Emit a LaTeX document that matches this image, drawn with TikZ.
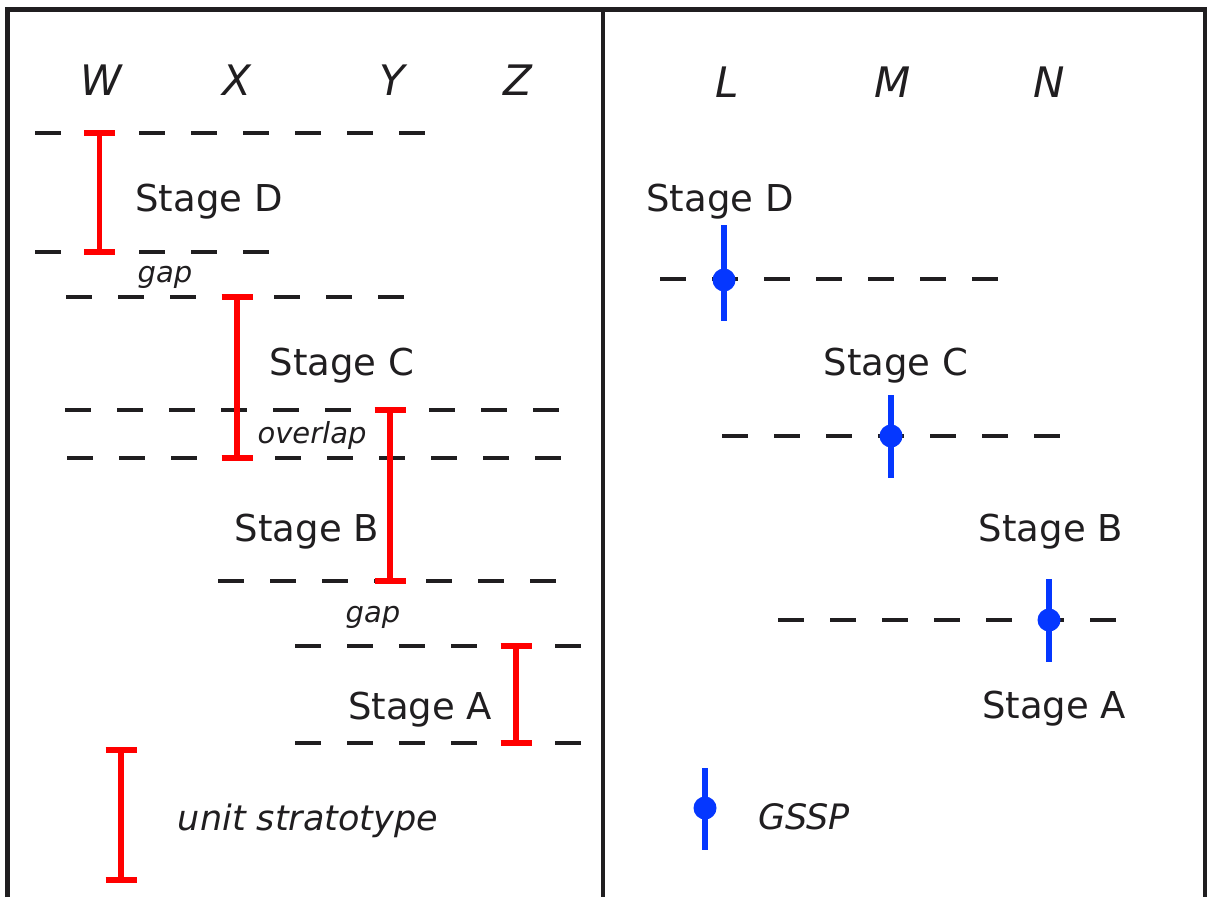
\documentclass[tikz,border=0pt]{standalone}
\usepackage{fontspec}
\setmainfont{DejaVu Sans}
\definecolor{gsspblue}{RGB}{5,55,255}
\definecolor{ink}{RGB}{32,30,32}
\definecolor{ured}{RGB}{255,0,0}
\begin{document}
\begin{tikzpicture}[x=1pt,y=-1pt,
  frame/.style={line width=4.5pt, ink},
  strat/.style={line width=4.2pt, ink, dash pattern=on 26pt off 26pt},
  unit/.style={line width=5.5pt, ured},
  gssp/.style={line width=5.5pt, gsspblue},
  gdot/.style={circle, fill=gsspblue, inner sep=0pt, minimum size=23pt},
  lbl/.style={font=\fontsize{37}{42}\selectfont, text=ink, inner sep=0pt, anchor=base},
  col/.style={font=\fontsize{42}{46}\selectfont\itshape, text=ink, inner sep=0pt, anchor=base},
  note/.style={font=\fontsize{29}{32}\selectfont\itshape, text=ink, inner sep=0pt, anchor=base},
  leg/.style={font=\fontsize{35}{40}\selectfont\itshape, text=ink, inner sep=0pt, anchor=base},
]
\useasboundingbox (0,0) rectangle (1207,897);
\fill[white] (0,0) rectangle (1207,897);
% frame
\draw[frame] (7.5,897) -- (7.5,9.5) -- (1207,9.5);
\draw[frame] (603,9.5) -- (603,897);
\draw[frame] (1205,9.5) -- (1205,897);
% column letters
\node[col] (W) at (101,95) {W};
\node[col] (X) at (237,95) {X};
\node[col] (Y) at (392,95) {Y};
\node[col] (Z) at (518,95) {Z};
\node[col] (L) at (727,97) {L};
\node[col] (M) at (893,97) {M};
\node[col] (N) at (1049,97) {N};
% left panel dashed boundaries
\draw[strat] (35,133) -- (428,133);
\draw[strat] (35,252) -- (270,252);
\draw[strat] (66,297) -- (408,297);
\draw[strat] (65,410) -- (560,410);
\draw[strat] (67,458) -- (562,458);
\draw[strat] (218,581) -- (558,581);
\draw[strat] (295,646) -- (582,646);
\draw[strat] (295,743) -- (582,743);
% unit stratotypes (I-beams)
\foreach \x/\a/\b in {99.5/133/252, 237/297/458, 390/410/581, 516/646/743, 121/750/880}{
  \draw[unit] (\x,\a) -- (\x,\b);
  \draw[unit] (\x-15.5,\a) -- (\x+15.5,\a);
  \draw[unit] (\x-15.5,\b) -- (\x+15.5,\b);
}
% left labels
\node[lbl] (sD) at (209,211) {Stage D};
\node[note] (g1) at (165,282) {gap};
\node[lbl] (sC) at (342,375) {Stage C};
\node[note] (ov) at (312,443) {overlap};
\node[lbl] (sB) at (307,541) {Stage B};
\node[note] (g2) at (373,622) {gap};
\node[lbl] (sA) at (420,719) {Stage A};
\node[leg] (us) at (308,830) {unit stratotype};
% right panel
\node[lbl] (rD) at (720,211) {Stage D};
\draw[strat] (660,279) -- (1000,279);
\draw[gssp] (724,225) -- (724,321);
\node[gdot] (pD) at (724,280) {};
\node[lbl] (rC) at (896,375) {Stage C};
\draw[strat] (722,436) -- (1062,436);
\draw[gssp] (891,395) -- (891,478);
\node[gdot] (pC) at (891,436) {};
\node[lbl] (rB) at (1051,541) {Stage B};
\draw[strat] (778,620) -- (1118,620);
\draw[gssp] (1049,579) -- (1049,662);
\node[gdot] (pB) at (1049,620) {};
\node[lbl] (rA) at (1054,718) {Stage A};
% legend GSSP
\draw[gssp] (705,768) -- (705,850);
\node[gdot] (pL) at (705,808) {};
\node[leg] (gs) at (804,829) {GSSP};
\end{tikzpicture}
\end{document}
